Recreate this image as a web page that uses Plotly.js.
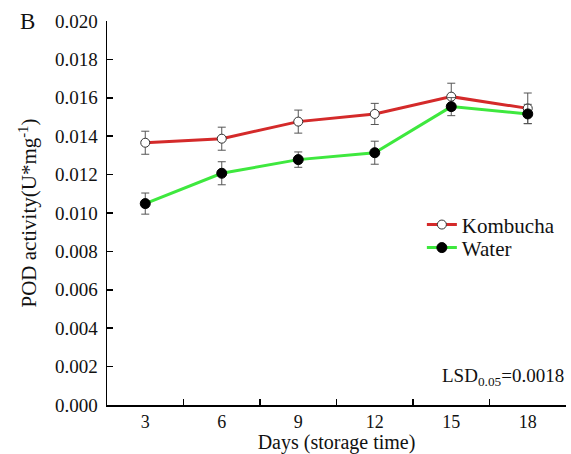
<!DOCTYPE html>
<html>
<head>
<meta charset="utf-8">
<script src="https://cdn.plot.ly/plotly-3.0.1.min.js"></script>
<style>
html,body{margin:0;padding:0;background:#fff}
#chart{width:571px;height:454px}
</style>
</head>
<body>
<div id="chart"></div>
<script>
const days = ["3", "6", "9", "12", "15", "18"];
const kombucha = [0.01366, 0.01387, 0.01476, 0.01516, 0.01606, 0.01545];
const kombuchaErr = [0.0006, 0.0006, 0.0006, 0.00055, 0.0007, 0.0008];
const water = [0.01049, 0.01207, 0.01278, 0.01314, 0.01554, 0.01516];
const waterErr = [0.00055, 0.0006, 0.0004, 0.0006, 0.00047, 0.0005];
const yTicks = [0, 0.002, 0.004, 0.006, 0.008, 0.010, 0.012, 0.014, 0.016, 0.018, 0.020];

const font = "Liberation Serif";
const ink = "#111";
const errStyle = {type: "data", visible: true, color: "#555", thickness: 1, width: 4};

const traces = [
  {x: days, y: kombucha, name: "Kombucha", type: "scatter", mode: "lines+markers", legend: "legend",
   line: {color: "#d42a2a", width: 3},
   marker: {color: "#ffffff", size: 9, line: {color: "#333", width: 1}},
   error_y: Object.assign({array: kombuchaErr}, errStyle)},
  {x: days, y: water, name: "Water", type: "scatter", mode: "lines+markers", legend: "legend2",
   line: {color: "#3ee83e", width: 3},
   marker: {color: "#000000", size: 10, line: {color: "#000", width: 1}},
   error_y: Object.assign({array: waterErr}, errStyle)}
];

const legendBase = {xanchor: "left", yanchor: "middle", bgcolor: "rgba(0,0,0,0)", borderwidth: 0,
                    font: {family: font, size: 21, color: ink}};

const layout = {
  width: 571, height: 454,
  margin: {l: 107, r: 5, t: 21, b: 49},
  paper_bgcolor: "#fff", plot_bgcolor: "#fff",
  font: {family: font, size: 19, color: ink},
  showlegend: true,
  legend: Object.assign({x: 0.686, y: 0.469}, legendBase),
  legend2: Object.assign({x: 0.686, y: 0.409}, legendBase),
  xaxis: {
    type: "category", range: [-0.5, 5.5],
    showline: true, linecolor: "#000", linewidth: 1.5,
    ticks: "inside", tickson: "boundaries", ticklen: 6, tickcolor: "#000", tickwidth: 1.5,
    showgrid: false, zeroline: false,
    tickfont: {family: font, size: 18, color: ink},
    title: {text: "Days (storage time)", font: {family: font, size: 20, color: ink}, standoff: 2}
  },
  yaxis: {
    range: [0, 0.020], tickvals: yTicks, ticktext: yTicks.map(v => v.toFixed(3)),
    showline: true, linecolor: "#000", linewidth: 1.5,
    ticks: "inside", ticklen: 6, tickcolor: "#000", tickwidth: 1.5,
    showgrid: false, zeroline: false, ticklabelstandoff: 4,
    tickfont: {family: font, size: 19, color: ink},
    title: {text: "POD activity(U*mg<sup>-1</sup>)", font: {family: font, size: 21, color: ink}, standoff: 12}
  },
  annotations: [
    {xref: "paper", yref: "paper", x: -0.174, y: 1.0, xanchor: "center", yanchor: "middle",
     text: "B", showarrow: false, font: {family: font, size: 23, color: ink}},
    {xref: "paper", yref: "paper", x: 1.0, y: 0.072, xanchor: "right", yanchor: "middle",
     text: "LSD<sub>0.05</sub>=0.0018", showarrow: false, font: {family: font, size: 19, color: ink}}
  ]
};

Plotly.newPlot("chart", traces, layout, {displayModeBar: false, staticPlot: true});
</script>
</body>
</html>
